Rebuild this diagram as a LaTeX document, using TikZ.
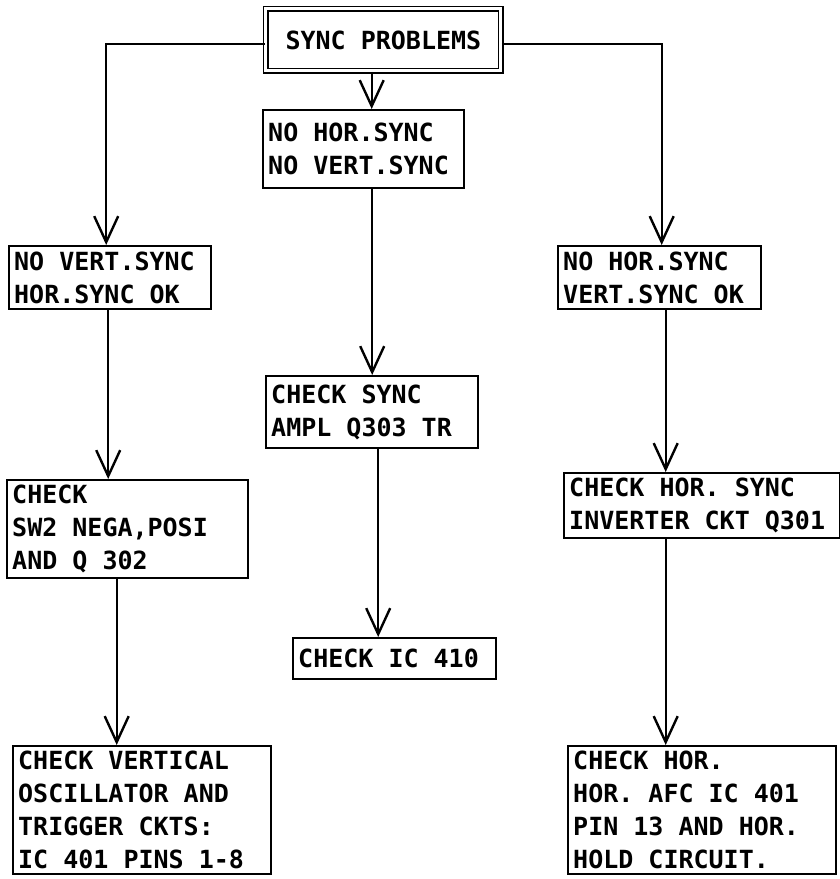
\documentclass[tikz,border=0pt]{standalone}
\usepackage{fontspec}
\setmonofont{DejaVu Sans Mono}
\usetikzlibrary{arrows.meta,positioning}
\newcommand\flowfont{\ttfamily\bfseries\fontsize{25}{33}\selectfont}
\newcommand\flowspace{\spaceskip=\fontcharwd\font`0\relax\xspaceskip=\spaceskip}

\begin{document}
\begin{tikzpicture}[
    x=1pt, y=-1pt,
    block/.style={draw, line width=2.4pt, anchor=north west, inner sep=5pt, align=left, font=\flowfont,
                  execute at begin node=\flowspace},
    arr/.style={-{Straight Barb[length=26pt,width=24pt,line width=2.4pt]}, line width=2.4pt}
]
\useasboundingbox (0,0) rectangle (840,879);
% top
\node[block, double, line width=1.8pt, double distance=3pt, align=center,
      minimum width=235pt, minimum height=62pt] (sync) at (265,8) {SYNC PROBLEMS};
% middle column
\node[block, minimum width=201pt, minimum height=78pt, text width=191pt] (nosync) at (262,109) {NO HOR.SYNC\\NO VERT.SYNC};
\node[block, minimum width=212pt, minimum height=72pt, text width=202pt] (chkampl) at (265,375) {CHECK SYNC\\AMPL Q303 TR};
\node[block, minimum width=203pt, minimum height=41pt, text width=193pt] (chkic) at (292,637) {CHECK IC 410};
% left column
\node[block, minimum width=202pt, minimum height=63pt, text width=192pt] (novert) at (8,245) {NO VERT.SYNC\\HOR.SYNC OK};
\node[block, minimum width=241pt, minimum height=87pt, text width=231pt] (chkneg) at (6,479) {CHECK\\SW2 NEGA,POSI\\AND Q 302};
\node[block, minimum width=258pt, minimum height=123pt, text width=248pt] (chkvert) at (12,745) {CHECK VERTICAL\\OSCILLATOR AND\\TRIGGER CKTS:\\IC 401 PINS 1-8};
% right column
\node[block, minimum width=203pt, minimum height=63pt, text width=193pt] (nohor) at (557,245) {NO HOR.SYNC\\VERT.SYNC OK};
\node[block, minimum width=276pt, minimum height=65pt, text width=266pt] (chkinv) at (563,472) {CHECK HOR. SYNC\\INVERTER CKT Q301};
\node[block, minimum width=268pt, minimum height=125pt, text width=258pt] (chkafc) at (567,745) {CHECK HOR.\\HOR. AFC IC 401\\PIN 13 AND HOR.\\HOLD CIRCUIT.};

\draw[arr] ([yshift=-4pt]sync.west) -| ([xshift=-4pt]novert.north);
\draw[arr] ([yshift=-4pt]sync.east) -| ([xshift=2pt]nohor.north);
\draw[arr] ([xshift=8pt]nosync.north |- sync.south) -- ([xshift=8pt]nosync.north);
\draw[arr] (chkampl.north |- nosync.south) -- (chkampl.north);
\draw[arr] ([xshift=6pt]chkampl.south) -- ([xshift=6pt]chkampl.south |- chkic.north);
\draw[arr] ([xshift=-2pt]novert.south) -- ([xshift=-2pt]novert.south |- chkneg.north);
\draw[arr] ([xshift=-11pt]chkneg.south) -- ([xshift=-11pt]chkneg.south |- chkvert.north);
\draw[arr] ([xshift=6pt]nohor.south) -- ([xshift=6pt]nohor.south |- chkinv.north);
\draw[arr] ([xshift=6pt]nohor.south |- chkinv.south) -- ([xshift=6pt]nohor.south |- chkafc.north);
\end{tikzpicture}
\end{document}
